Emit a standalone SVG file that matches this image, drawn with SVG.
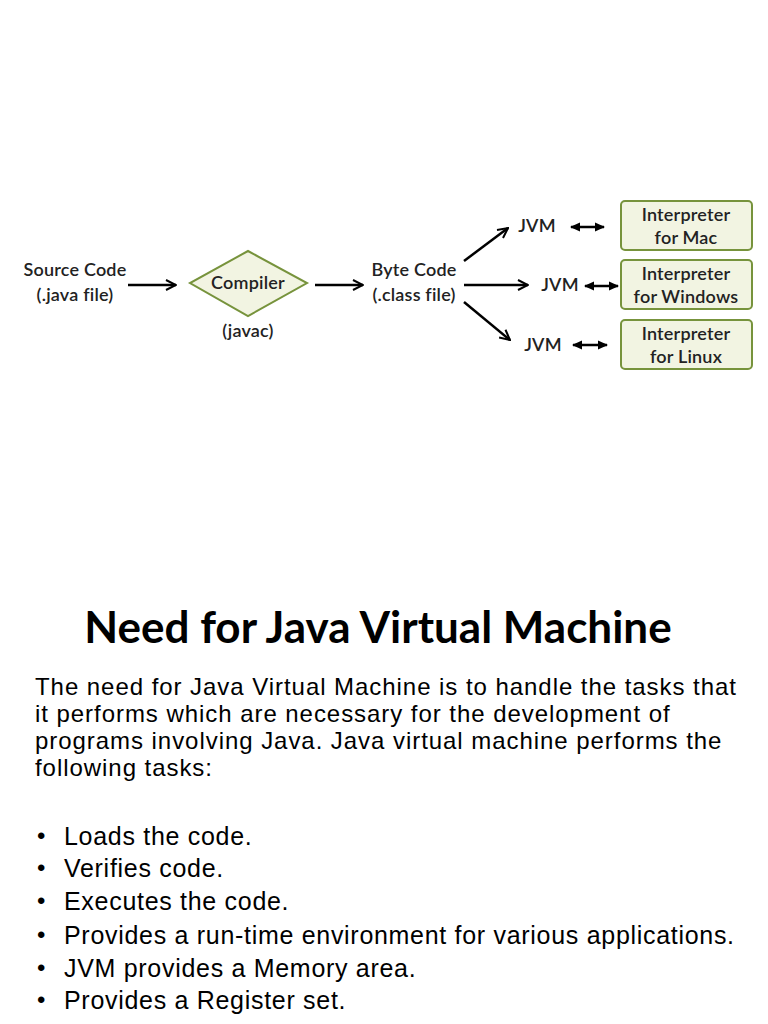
<svg xmlns="http://www.w3.org/2000/svg" width="768" height="1024" viewBox="0 0 768 1024">
<defs>
<style>
.lbl{font-family:Lato,"Open Sans","Liberation Sans",sans-serif;font-size:18px;font-weight:600;fill:#222;text-anchor:middle;letter-spacing:0.2px}
.box{fill:#f2f4e2;stroke:#77933c;stroke-width:2}
.ln{stroke:#000;stroke-width:2.5;fill:none}
.dl{stroke:#000;stroke-width:2.6;fill:none}
.title{font-family:Lato,"Open Sans","Liberation Sans",sans-serif;font-size:44px;font-weight:bold;fill:#000;text-anchor:middle}
.body{font-family:"Liberation Sans",Arial,sans-serif;font-size:24px;fill:#000;letter-spacing:0.95px}
.li{font-family:"Liberation Sans",Arial,sans-serif;font-size:25px;fill:#000;letter-spacing:0.7px}
.bul{font-family:"Liberation Sans",Arial,sans-serif;font-size:24px;fill:#000}
</style>
<marker id="open" viewBox="0 0 12 12" refX="11" refY="6" markerWidth="12" markerHeight="12" markerUnits="userSpaceOnUse" orient="auto">
<path d="M1,1 L11,6 L1,11" fill="none" stroke="#000" stroke-width="2"/>
</marker>
<marker id="solid" viewBox="0 0 10 10" refX="9" refY="5" markerWidth="10" markerHeight="10" markerUnits="userSpaceOnUse" orient="auto-start-reverse">
<path d="M0,0.5 L10,5 L0,9.5 Z" fill="#000"/>
</marker>
</defs>
<rect width="768" height="1024" fill="#fff"/>

<g id="connectors">
<line class="ln" x1="128" y1="285" x2="176" y2="285" marker-end="url(#open)"/>
<line class="ln" x1="315" y1="285" x2="363" y2="285" marker-end="url(#open)"/>
<line class="ln" x1="464" y1="261" x2="508" y2="228" marker-end="url(#open)"/>
<line class="ln" x1="464" y1="285" x2="528" y2="285" marker-end="url(#open)"/>
<line class="ln" x1="464" y1="302" x2="510" y2="340" marker-end="url(#open)"/>
<line class="dl" x1="571" y1="227" x2="604" y2="227" marker-start="url(#solid)" marker-end="url(#solid)"/>
<line class="dl" x1="585" y1="286" x2="618" y2="286" marker-start="url(#solid)" marker-end="url(#solid)"/>
<line class="dl" x1="573" y1="345" x2="607" y2="345" marker-start="url(#solid)" marker-end="url(#solid)"/>
</g>

<g id="source">
<text class="lbl" x="75" y="276">Source Code</text>
<text class="lbl" x="75" y="301">(.java file)</text>
</g>
<g id="compiler">
<polygon class="box" points="248,251 307,283 248,316 190,283"/>
<text class="lbl" x="248" y="289">Compiler</text>
<text class="lbl" x="248" y="337">(javac)</text>
</g>
<g id="bytecode">
<text class="lbl" x="414" y="276">Byte Code</text>
<text class="lbl" x="414" y="301">(.class file)</text>
</g>
<g id="jvm1"><text class="lbl" x="537" y="232">JVM</text></g>
<g id="jvm2"><text class="lbl" x="560" y="291">JVM</text></g>
<g id="jvm3"><text class="lbl" x="543" y="351">JVM</text></g>
<g id="mac">
<rect class="box" x="621" y="201" width="131" height="49" rx="4"/>
<text class="lbl" x="686" y="221">Interpreter</text>
<text class="lbl" x="686" y="244">for Mac</text>
</g>
<g id="windows">
<rect class="box" x="621" y="260" width="131" height="49" rx="4"/>
<text class="lbl" x="686" y="280">Interpreter</text>
<text class="lbl" x="686" y="303">for Windows</text>
</g>
<g id="linux">
<rect class="box" x="621" y="320" width="131" height="49" rx="4"/>
<text class="lbl" x="686" y="340">Interpreter</text>
<text class="lbl" x="686" y="363">for Linux</text>
</g>

<g id="text">
<text class="title" x="378" y="643">Need for Java Virtual Machine</text>
<text class="body" x="35" y="695">The need for Java Virtual Machine is to handle the tasks that</text>
<text class="body" x="35" y="722">it performs which are necessary for the development of</text>
<text class="body" x="35" y="749">programs involving Java.  Java virtual machine performs the</text>
<text class="body" x="35" y="776">following tasks:</text>
<g class="bul">
<text x="37" y="844">•</text><text x="37" y="876">•</text><text x="37" y="909">•</text><text x="37" y="943">•</text><text x="37" y="976">•</text><text x="37" y="1008">•</text>
</g>
<g class="li">
<text x="64" y="845">Loads the code.</text>
<text x="64" y="877">Verifies code.</text>
<text x="64" y="910">Executes the code.</text>
<text x="64" y="944">Provides a run-time environment for various applications.</text>
<text x="64" y="977">JVM provides a Memory area.</text>
<text x="64" y="1009">Provides a Register set.</text>
</g>
</g>
</svg>
